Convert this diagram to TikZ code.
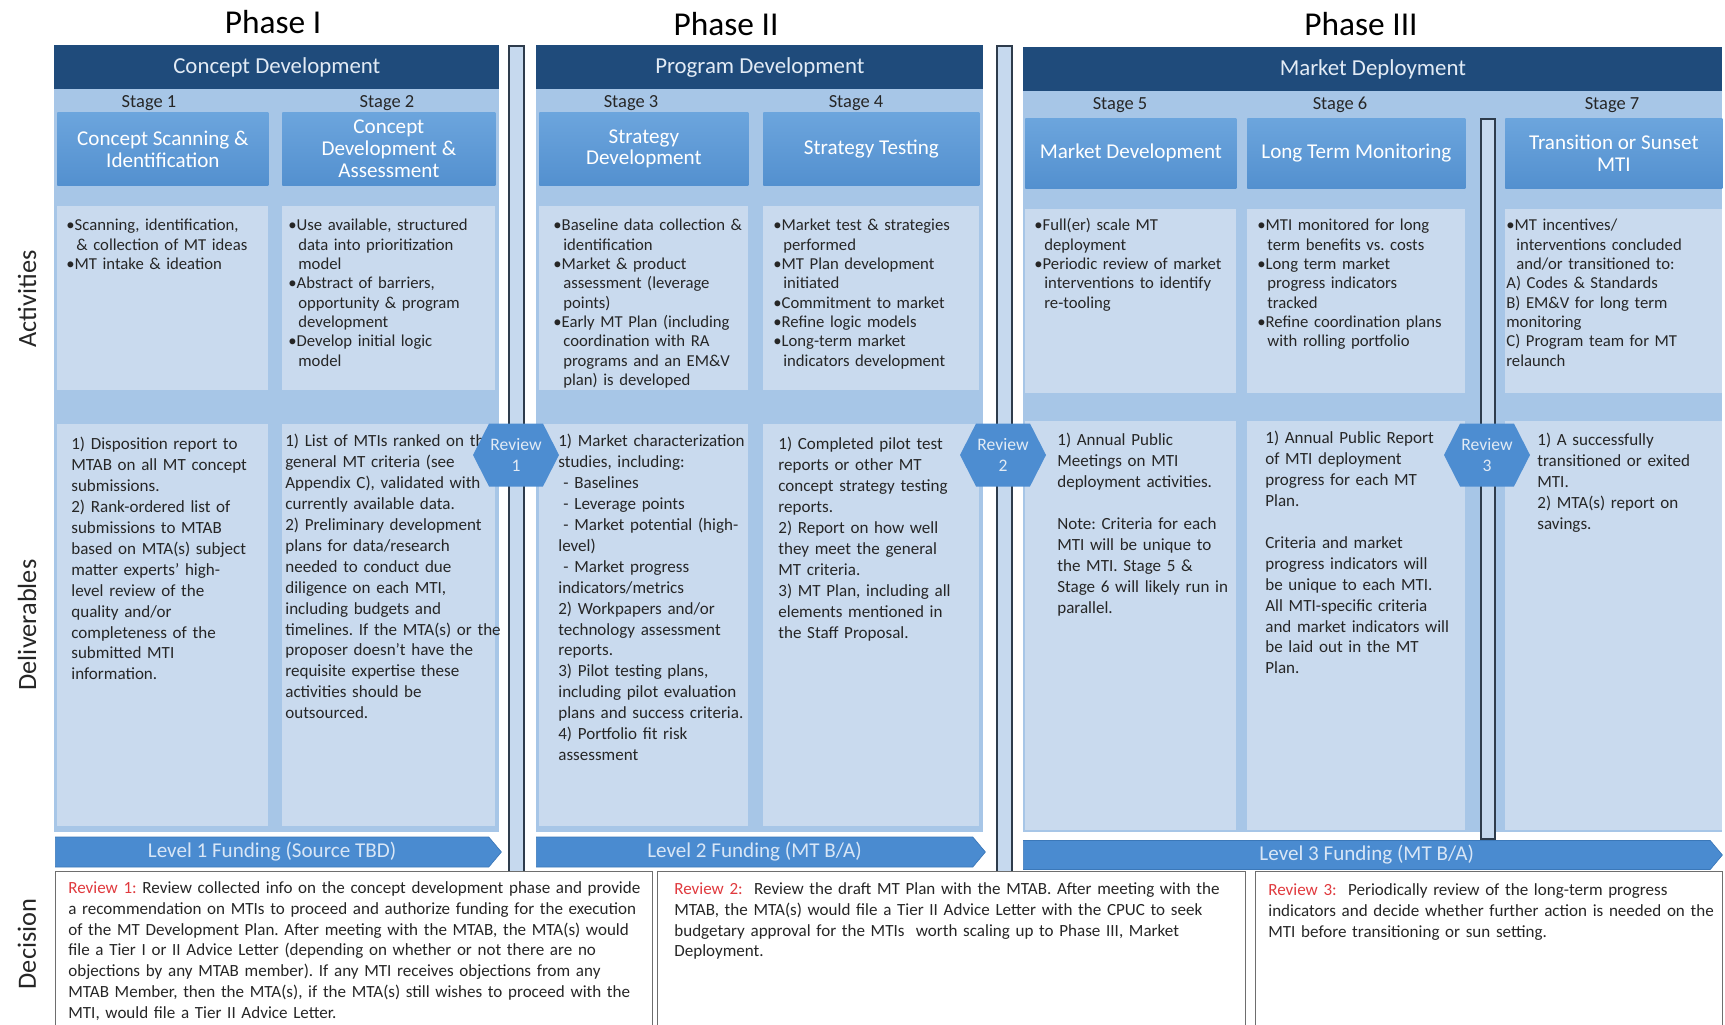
\documentclass[tikz,border=0pt]{standalone}
\usepackage{fontspec}
\setmainfont{Carlito}
\usepackage{xcolor}
\usepackage{tikz}
\usetikzlibrary{shapes.symbols}
\frenchspacing

\definecolor{headblue}{HTML}{1F4B7B}
\definecolor{headtext}{HTML}{E2EBF5}
\definecolor{phasebg}{HTML}{A7C6E7}
\definecolor{stagetop}{HTML}{6CA5DD}
\definecolor{stagebot}{HTML}{5390CF}
\definecolor{cellblue}{HTML}{C9DAEE}
\definecolor{barfill}{HTML}{C6D9EE}
\definecolor{bardark}{HTML}{2E3C4C}
\definecolor{fundblue}{HTML}{4A8BD0}
\definecolor{funddark}{HTML}{3B78B9}
\definecolor{fundtext}{HTML}{D8E6F6}
\definecolor{hexblue}{HTML}{4D8DD1}
\definecolor{revred}{HTML}{E03A3E}
\definecolor{bodytext}{HTML}{262626}
\definecolor{decline}{HTML}{6E6E6E}

\newcommand{\bul}{\par\hangindent=0.6em\hangafter=1\noindent\textbullet}

\tikzset{cell/.style = {fill=cellblue, inner sep=0pt, anchor=north west}}
\tikzset{celltext/.style = {anchor=north west, inner sep=0pt, text width=50mm, align=left, text=bodytext}}

\begin{document}
\begin{tikzpicture}[x=0.2mm, y=-0.2mm,
    phase title/.style={font=\fontsize{19}{22}\selectfont, text=black},
    phase bg/.style={fill=phasebg, inner sep=0pt, anchor=north west},
    phase head/.style={fill=headblue, text=headtext, inner sep=0pt, anchor=north west, minimum height=8.8mm, font=\fontsize{13}{15}\selectfont},
    stage lbl/.style={font=\fontsize{10.5}{12}\selectfont, text=bodytext},
    stage box/.style={top color=stagetop, bottom color=stagebot, text=white, inner sep=0pt, anchor=north west, align=center, font=\fontsize{12}{12.5}\selectfont},
    act/.style={celltext, font=\fontsize{9.5}{11}\selectfont},
    dlv/.style={celltext, font=\fontsize{9.7}{11.9}\selectfont},
    bar/.style={fill=barfill, draw=bardark, line width=0.9pt, inner sep=0pt, anchor=north west},
    fund/.style={signal, signal to=east, signal pointer angle=100, fill=fundblue, draw=funddark, line width=0.4pt, text=fundtext, inner sep=0pt, anchor=west, font=\fontsize{12}{14}\selectfont},
    review/.style={signal, signal to=east and west, signal pointer angle=126, fill=hexblue, text=headtext, inner sep=0pt, minimum width=17.2mm, minimum height=12.6mm, align=center, font=\fontsize{10}{12}\selectfont},
    dec box/.style={fill=white, draw=decline, line width=0.7pt, inner sep=0pt, anchor=north west},
    dec text/.style={celltext, text width=125mm, font=\fontsize{9.7}{11.9}\selectfont},
    row lbl/.style={rotate=90, font=\fontsize{15}{18}\selectfont, text=bodytext}]
            \useasboundingbox (0,0) rectangle (1725,1024);
            \clip (0,0) rectangle (1725,1024);

            \node[phase title] (t1) at (273,22) {Phase I};
            \node[phase title] (t2) at (726,24) {Phase II};
            \node[phase title] (t3) at (1361,24) {Phase III};

            \node[row lbl] (rowact) at (27,299) {Activities};
            \node[row lbl] (rowdlv) at (27,625) {Deliverables};
            \node[row lbl] (rowdec) at (27,944) {Decision};

            \node[phase bg, minimum width=89mm, minimum height=148.6mm] (bg1) at (54,89) {};
            \node[phase bg, minimum width=89.4mm, minimum height=148.6mm] (bg2) at (536,89) {};
            \node[phase bg, minimum width=139.8mm, minimum height=148.2mm] (bg3) at (1023,91) {};

            \node[phase head, minimum width=89mm] (ph1) at (54,45) {Concept Development};
            \node[phase head, minimum width=89.4mm] (ph2) at (536,45) {Program Development};
            \node[phase head, minimum width=139.8mm] (ph3) at (1023,47) {Market Deployment};

            \node[stage lbl] (l1) at (149,103) {Stage 1};
            \node[stage lbl] (l2) at (387,103) {Stage 2};
            \node[stage lbl] (l3) at (631,103) {Stage 3};
            \node[stage lbl] (l4) at (856,103) {Stage 4};
            \node[stage lbl] (l5) at (1120,105) {Stage 5};
            \node[stage lbl] (l6) at (1340,105) {Stage 6};
            \node[stage lbl] (l7) at (1612,105) {Stage 7};

            \node[stage box, minimum width=42.2mm, minimum height=14.6mm] (s1) at (57,112) {Concept Scanning \&\\Identification};
            \node[stage box, minimum width=42.6mm, minimum height=14.6mm] (s2) at (282,112) {Concept\\Development \&\\Assessment};
            \node[stage box, minimum width=41.8mm, minimum height=14.6mm] (s3) at (539,112) {Strategy\\Development};
            \node[stage box, minimum width=43.2mm, minimum height=14.6mm] (s4) at (763,112) {Strategy Testing};
            \node[stage box, minimum width=42.2mm, minimum height=14mm] (s5) at (1025,118) {Market Development};
            \node[stage box, minimum width=43.6mm, minimum height=14mm] (s6) at (1247,118) {Long Term Monitoring};
            \node[stage box, minimum width=43.4mm, minimum height=14mm] (s7) at (1505,118) {Transition or Sunset\\MTI};

            \node[cell, minimum width=42.2mm, minimum height=36.8mm] (a1) at (57,206) {};
            \node[cell, minimum width=42.6mm, minimum height=36.8mm] (a2) at (282,206) {};
            \node[cell, minimum width=41.8mm, minimum height=36.8mm] (a3) at (539,206) {};
            \node[cell, minimum width=43.2mm, minimum height=36.8mm] (a4) at (763,206) {};
            \node[cell, minimum width=42.2mm, minimum height=36.8mm] (a5) at (1025,209) {};
            \node[cell, minimum width=43.6mm, minimum height=36.8mm] (a6) at (1247,209) {};
            \node[cell, minimum width=43.4mm, minimum height=36.8mm] (a7) at (1505,209) {};

            \node[cell, minimum width=42.2mm, minimum height=80.4mm] (d1) at (57,424) {};
            \node[cell, minimum width=42.6mm, minimum height=80.4mm] (d2) at (282,424) {};
            \node[cell, minimum width=41.8mm, minimum height=80.4mm] (d3) at (539,424) {};
            \node[cell, minimum width=43.2mm, minimum height=80.4mm] (d4) at (763,424) {};
            \node[cell, minimum width=42.2mm, minimum height=81.8mm] (d5) at (1025,421) {};
            \node[cell, minimum width=43.6mm, minimum height=81.8mm] (d6) at (1247,421) {};
            \node[cell, minimum width=43.4mm, minimum height=81.8mm] (d7) at (1505,421) {};

            \node[bar, minimum width=3mm, minimum height=165.4mm] (b1) at (508,45) {};
            \node[bar, minimum width=3mm, minimum height=165.4mm] (b2) at (996,45) {};
            \node[bar, minimum width=2.8mm, minimum height=144mm] (b3) at (1480,118) {};

            \node[fund, minimum width=89.2mm, minimum height=6mm] (f1) at (55,852) {Level 1 Funding (Source TBD)};
            \node[fund, minimum width=89.8mm, minimum height=6mm] (f2) at (536,852) {Level 2 Funding (MT B/A)};
            \node[fund, minimum width=139.8mm, minimum height=5.8mm] (f3) at (1023,855) {Level 3 Funding (MT B/A)};

            \node[dec box, minimum width=119.4mm, minimum height=32mm] (dec1) at (55,871) {};
            \node[dec box, minimum width=117.6mm, minimum height=32mm] (dec2) at (657,871) {};
            \node[dec box, minimum width=93.4mm, minimum height=32mm] (dec3) at (1255,871) {};

            \node[act] (a1t) at (66,211) {\bul Scanning, identification,\newline \& collection of MT ideas \bul MT intake \& ideation\par};
            \node[act] (a2t) at (288,211) {\bul Use available, structured\newline data into prioritization\newline model \bul Abstract of barriers,\newline opportunity \& program\newline development \bul Develop initial logic\newline model\par};
            \node[act] (a3t) at (553,211) {\bul Baseline data collection \&\newline identification \bul Market \& product\newline assessment (leverage\newline points) \bul Early MT Plan (including\newline coordination with RA\newline programs and an EM\&V\newline plan) is developed\par};
            \node[act] (a4t) at (773,211) {\bul Market test \& strategies\newline performed \bul MT Plan development\newline initiated \bul Commitment to market \bul Refine logic models \bul Long-term market\newline indicators development\par};
            \node[act] (a5t) at (1034,211) {\bul Full(er) scale MT\newline deployment \bul Periodic review of market\newline interventions to identify\newline re-tooling\par};
            \node[act] (a6t) at (1257,211) {\bul MTI monitored for long\newline term benefits vs. costs \bul Long term market\newline progress indicators\newline tracked \bul Refine coordination plans\newline with rolling portfolio\par};
            \node[act] (a7t) at (1506,211) {\bul MT incentives/\newline interventions concluded\newline and/or transitioned to:\par A) Codes \& Standards\par B) EM\&V for long term\newline monitoring\par C) Program team for MT\newline relaunch\par};

            \node[dlv] (d1t) at (71,437) {1) Disposition report to\\MTAB on all MT concept\\submissions.\\2) Rank-ordered list of\\submissions to MTAB\\based on MTA(s) subject\\matter experts' high-\\level review of the\\quality and/or\\completeness of the\\submitted MTI\\information.};
            \node[dlv] (d2t) at (285,434) {1) List of MTIs ranked on the\\general MT criteria (see\\Appendix C), validated with\\currently available data.\\2) Preliminary development\\plans for data/research\\needed to conduct due\\diligence on each MTI,\\including budgets and\\timelines. If the MTA(s) or the\\proposer doesn't have the\\requisite expertise these\\activities should be\\outsourced.};
            \node[dlv] (d3t) at (558,434) {1) Market characterization\\studies, including:\\\hspace*{0.3em}- Baselines\\\hspace*{0.3em}- Leverage points\\\hspace*{0.3em}- Market potential (high-\\level)\\\hspace*{0.3em}- Market progress\\indicators/metrics\\2) Workpapers and/or\\technology assessment\\reports.\\3) Pilot testing plans,\\including pilot evaluation\\plans and success criteria.\\4) Portfolio fit risk\\assessment};
            \node[dlv] (d4t) at (778,437) {1) Completed pilot test\\reports or other MT\\concept strategy testing\\reports.\\2) Report on how well\\they meet the general\\MT criteria.\\3) MT Plan, including all\\elements mentioned in\\the Staff Proposal.};
            \node[dlv] (d5t) at (1057,433) {1) Annual Public\\Meetings on MTI\\deployment activities.\\[11.9pt]Note: Criteria for each\\MTI will be unique to\\the MTI. Stage 5 \&\\Stage 6 will likely run in\\parallel.};
            \node[dlv] (d6t) at (1265,431) {1) Annual Public Report\\of MTI deployment\\progress for each MT\\Plan.\\[11.9pt]Criteria and market\\progress indicators will\\be unique to each MTI.\\All MTI-specific criteria\\and market indicators will\\be laid out in the MT\\Plan.};
            \node[dlv] (d7t) at (1537,433) {1) A successfully\\transitioned or exited\\MTI.\\2) MTA(s) report on\\savings.};

            \node[dec text] (r1t) at (68,881) {\textcolor{revred}{Review 1:} Review collected info on the concept development phase and provide\\a recommendation on MTIs to proceed and authorize funding for the execution\\of the MT Development Plan. After meeting with the MTAB, the MTA(s) would\\file a Tier I or II Advice Letter (depending on whether or not there are no\\objections by any MTAB member). If any MTI receives objections from any\\MTAB Member, then the MTA(s), if the MTA(s) still wishes to proceed with the\\MTI, would file a Tier II Advice Letter.};
            \node[dec text] (r2t) at (674,882) {\textcolor{revred}{Review 2:}\ \ Review the draft MT Plan with the MTAB. After meeting with the\\MTAB, the MTA(s) would file a Tier II Advice Letter with the CPUC to seek\\budgetary approval for the MTIs\ \ worth scaling up to Phase III, Market\\Deployment.};
            \node[dec text] (r3t) at (1268,883) {\textcolor{revred}{Review 3:}\ \ Periodically review of the long-term progress\\indicators and decide whether further action is needed on the\\MTI before transitioning or sun setting.};

            \node[review] (rv1) at (516,455) {Review\\1};
            \node[review] (rv2) at (1003,455) {Review\\2};
            \node[review] (rv3) at (1487,455) {Review\\3};

        \end{tikzpicture}
\end{document}
